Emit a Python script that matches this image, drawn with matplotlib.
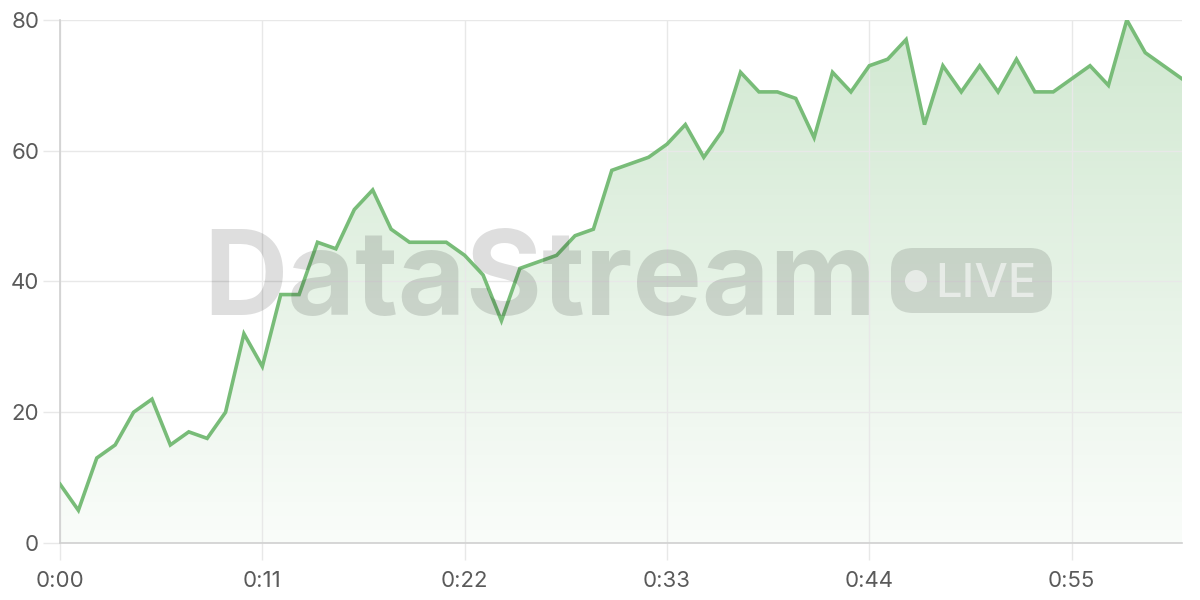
import numpy as np
import matplotlib
matplotlib.use("Agg")
import matplotlib.pyplot as plt
from matplotlib.patches import FancyBboxPatch, Circle
from matplotlib.transforms import IdentityTransform

plt.rcParams["font.family"] = ["Inter", "DejaVu Sans"]

# one reading per second
seconds = list(range(62))
values = [
    9, 5, 13, 15, 20, 22, 15, 17, 16, 20,
    32, 27, 38, 38, 46, 45, 51, 54, 48, 46,
    46, 46, 44, 41, 34, 42, 43, 44, 47, 48,
    57, 58, 59, 61, 64, 59, 63, 72, 69, 69,
    68, 62, 72, 69, 73, 74, 77, 64, 73, 69,
    73, 69, 74, 69, 69, 71, 73, 70, 80, 75,
    73, 71,
]
x_ticks = [0, 11, 22, 33, 44, 55]
x_labels = ["0:00", "0:11", "0:22", "0:33", "0:44", "0:55"]
y_ticks = [0, 20, 40, 60, 80]

line_color = "#78bc78"
grid_color = "#e8e8e8"
axis_color = "#d0d0d0"
label_color = "#5a5a5a"

fig = plt.figure(figsize=(12, 6), dpi=100)
ax = fig.add_axes([0.05, 0.095, 0.935, 0.8717])
ax.set_xlim(0, 61)
ax.set_ylim(0, 80)

# gradient fill under the line
grad = np.linspace(0.04, 0.34, 256).reshape(-1, 1)
rgba = np.zeros((256, 1, 4))
rgba[..., 0] = 0.47
rgba[..., 1] = 0.74
rgba[..., 2] = 0.47
rgba[..., 3] = grad
img = ax.imshow(rgba, extent=[0, 61, 0, 80], origin="lower", aspect="auto", zorder=1)
poly = ax.fill_between(seconds, values, 0, color="none", lw=0)
path = poly.get_paths()[0]
img.set_clip_path(path, transform=ax.transData)

ax.plot(seconds, values, color=line_color, lw=2.6, zorder=3, solid_joinstyle="miter")

# grid and axes
ax.set_xticks(x_ticks)
ax.set_xticklabels(x_labels)
ax.set_yticks(y_ticks)
ax.grid(True, color=grid_color, lw=1, zorder=0)
for s in ["top", "right"]:
    ax.spines[s].set_visible(False)
for s in ["left", "bottom"]:
    ax.spines[s].set_color(axis_color)
    ax.spines[s].set_linewidth(1.2)
ax.tick_params(axis="both", colors=grid_color, length=12, width=1,
               labelcolor=label_color, labelsize=16)
ax.tick_params(axis="x", pad=8)
ax.tick_params(axis="y", pad=3)

# watermark
fig.text(0.45, 0.475, "DataStream", fontsize=84, fontweight="bold",
         color="#000000", alpha=0.13, ha="center", va="baseline", zorder=5)
px = IdentityTransform()
box = FancyBboxPatch((891, 287), 161, 65,
                     boxstyle="round,pad=0,rounding_size=22",
                     transform=px, facecolor="#000000",
                     alpha=0.12, edgecolor="none")
fig.patches.append(box)
fig.patches.append(Circle((916, 319), 11, transform=px,
                          facecolor="white", alpha=0.55, edgecolor="none"))
fig.text(986 / 1200, 303 / 600, "LIVE", fontsize=34, fontweight="medium",
         color="white", alpha=0.55, ha="center", va="baseline")

fig.savefig("out.png", dpi=100)
